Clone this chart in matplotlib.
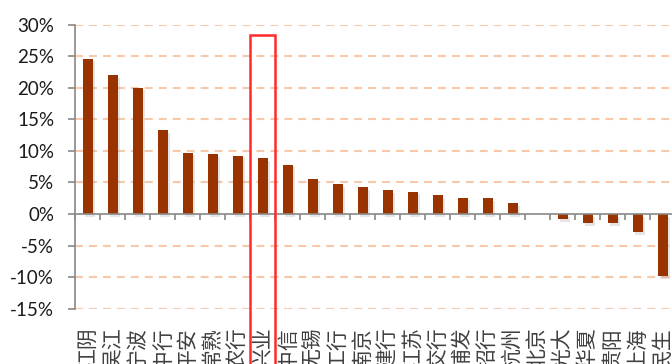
import numpy as np
import matplotlib.pyplot as plt
from matplotlib.patches import Rectangle
import matplotlib.patheffects as pe

# bank names and growth values (%)
banks = ['江阴', '吴江', '宁波', '中行', '平安', '常熟', '农行', '兴业', '中信', '无锡',
         '工行', '南京', '建行', '江苏', '交行', '浦发', '招行', '杭州', '北京', '光大',
         '华夏', '贵阳', '上海', '民生']
growth = [24.6, 22.0, 20.0, 13.3, 9.7, 9.5, 9.25, 8.8, 7.8, 5.55,
          4.7, 4.3, 3.8, 3.55, 3.0, 2.6, 2.45, 1.7, 0.0, -0.85,
          -1.4, -1.5, -2.9, -9.8]
yticks = [-15, -10, -5, 0, 5, 10, 15, 20, 25, 30]
highlight = '兴业'

fig = plt.figure(figsize=(6.72, 3.64), dpi=100)
ax = fig.add_axes([75 / 672, (364 - 308.7) / 364, 600 / 672, (308.7 - 24.5) / 364])

x = np.arange(len(banks))
bars = ax.bar(x, growth, width=0.4, color='#993300', zorder=3)
for b in bars:
    b.set_path_effects([pe.SimplePatchShadow(offset=(1.5, -2), shadow_rgbFace='#999999', alpha=0.25),
                        pe.Normal()])

ax.set_xlim(-0.5, len(banks) - 0.5)
ax.set_ylim(-15, 30)
ax.set_yticks(yticks)
ax.set_yticklabels([f'{v}%' for v in yticks], fontsize=13.5, family='Lato', color='#1a1a1a')

# dashed grid
for v in yticks:
    if v != 0:
        ax.axhline(v, color='#f8c9a8', lw=1.5, ls=(0, (3.8, 2.9)), zorder=1)

for s in ['top', 'right']:
    ax.spines[s].set_visible(False)
ax.spines['left'].set_color('#888888')
ax.spines['left'].set_linewidth(1.2)
ax.spines['bottom'].set_position(('data', 0))
ax.spines['bottom'].set_color('#888888')
ax.spines['bottom'].set_linewidth(1.2)
ax.spines['bottom'].set_zorder(4)
ax.tick_params(axis='y', direction='out', length=5, width=1.2, color='#888888', pad=10)
ax.set_xticks(np.arange(len(banks) + 1) - 0.5)
ax.set_xticklabels([])
ax.tick_params(axis='x', direction='out', length=4.5, width=1.2, color='#888888')

# category labels at bottom
sec = ax.secondary_xaxis('bottom')
sec.set_xticks(x)
sec.set_xticklabels(banks, rotation=90, fontsize=15, family=['Noto Sans CJK SC', 'DejaVu Sans'],
                    fontweight='light', color='#404040', va='top', ha='center')
sec.tick_params(length=0, pad=13)
sec.spines['bottom'].set_visible(False)

# highlight box
i = banks.index(highlight)
ax.add_patch(Rectangle((i - 0.5, -40), 1.0, 28.4 + 40, fill=False, edgecolor='#ff2a2a',
                       lw=1.8, clip_on=False, zorder=5))

fig.savefig('out.png', dpi=100)
